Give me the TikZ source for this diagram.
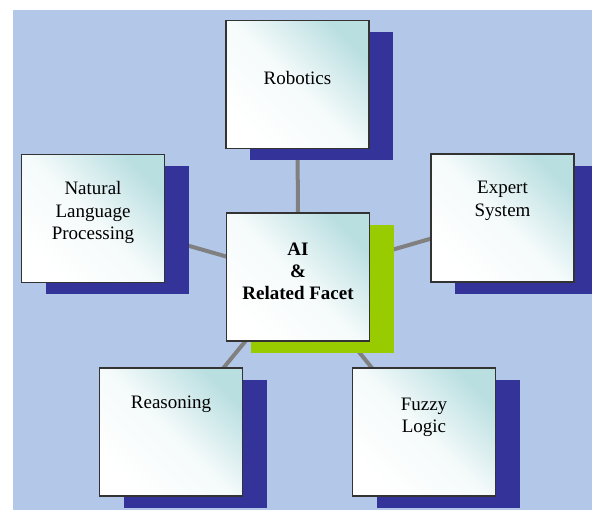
\documentclass[tikz,border=0pt]{standalone}
\usepackage{fontspec}
\setmainfont{Liberation Serif}
\usetikzlibrary{positioning,shadows,backgrounds}
\definecolor{FacetBack}{RGB}{179,200,232}
\definecolor{FacetShadow}{RGB}{51,51,153}
\definecolor{HubShadow}{RGB}{153,204,0}
\definecolor{FacetTeal}{RGB}{186,223,225}
\definecolor{SpokeGray}{RGB}{128,128,128}

\begin{document}
\begin{tikzpicture}[x=1pt, y=-1pt,
  every node/.style={font=\fontsize{19}{22.5}\selectfont, align=center},
  facetbox/.style={draw=black!80, line width=1.2pt, minimum width=143pt, minimum height=128pt, inner sep=0pt,
    top color=FacetTeal, bottom color=white, middle color=FacetTeal!15!white, shading angle=-45},
  facet/.style={facetbox, drop shadow={shadow xshift=24pt, shadow yshift=-12pt, fill=FacetShadow, opacity=1}},
  hub/.style={facetbox, drop shadow={shadow xshift=24pt, shadow yshift=-12pt, fill=HubShadow, opacity=1}},
  spoke/.style={line width=4pt, SpokeGray}]
  \useasboundingbox (0,0) rectangle (592,510);
  \begin{scope}[on background layer]
    \fill[FacetBack] (13,10) rectangle (592,510);
  \end{scope}

  \node[hub] (center) at (298,277) {};
  \node[facet] (robotics) at (297.5,84.5) {};
  \node[facet] (nlp) at (93,218.5) {};
  \node[facet] (expert) at (502.5,218) {};
  \node[facet] (reasoning) at (171,432) {};
  \node[facet] (fuzzy) at (424,432) {};

  \node[font=\bfseries\fontsize{19}{22}\selectfont] (centertext) at ([yshift=-59pt]center.north) {AI\\\&\\Related Facet};
  \node (roboticstext) at ([yshift=-58pt]robotics.north) {Robotics};
  \node (nlptext) at ([yshift=-59pt]nlp.north) {Natural\\Language\\Processing};
  \node (experttext) at ([yshift=-47.5pt]expert.north) {Expert\\System};
  \node (reasoningtext) at ([yshift=-37pt]reasoning.north) {Reasoning};
  \node (fuzzytext) at ([yshift=-50pt]fuzzy.north) {Fuzzy\\Logic};

  \begin{scope}[on background layer]
    \draw[spoke] (center.center) -- (robotics.center);
    \draw[spoke] (center.center) -- (nlp.center);
    \draw[spoke] (center.center) -- (expert.center);
    \draw[spoke] (center.center) -- (reasoning.center);
    \draw[spoke] (center.center) -- (fuzzy.center);
  \end{scope}
\end{tikzpicture}
\end{document}
